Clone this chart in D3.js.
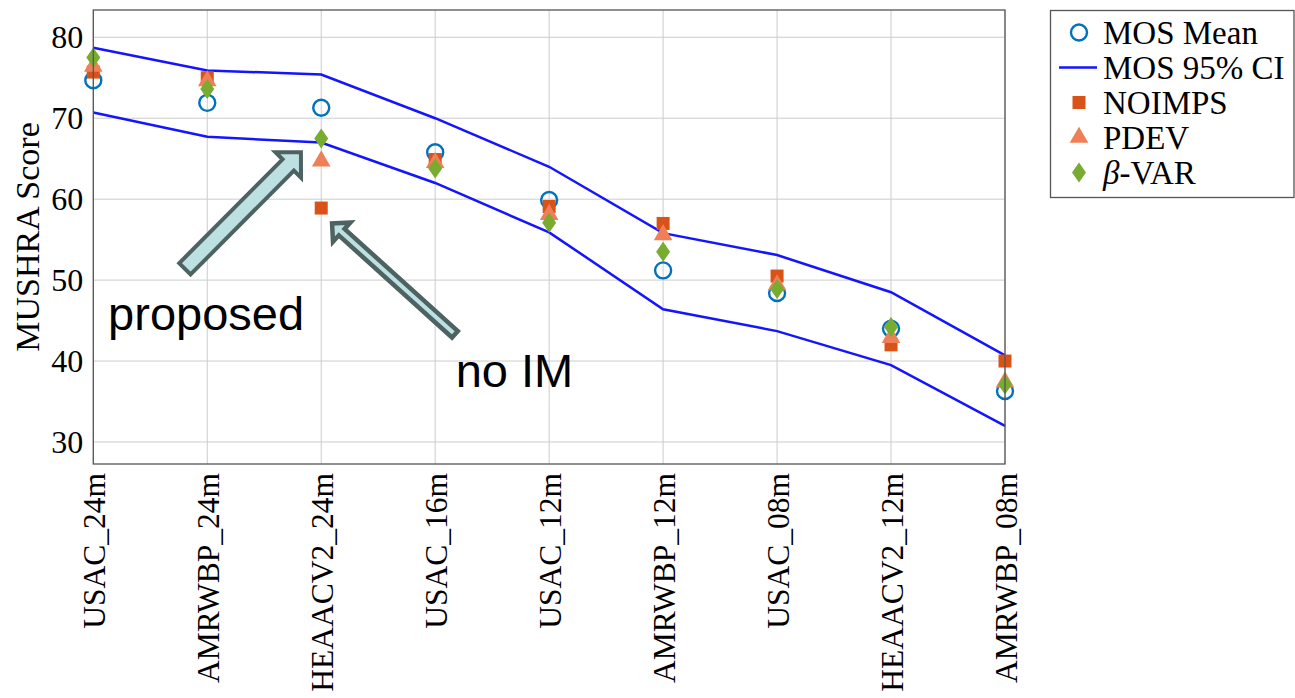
<!DOCTYPE html>
<html>
<head>
<meta charset="utf-8">
<script src="https://cdn.jsdelivr.net/npm/d3@7"></script>
<style>
  html, body { margin: 0; padding: 0; background: #fff; }
  #chart { width: 1295px; height: 698px; }
</style>
</head>
<body>
<div id="chart"></div>
<script>
// codec conditions, left to right
const categories = ["USAC_24m", "AMRWBP_24m", "HEAACV2_24m", "USAC_16m", "USAC_12m",
                    "AMRWBP_12m", "USAC_08m", "HEAACV2_12m", "AMRWBP_08m"];
// MUSHRA scores
const mosMean = [74.7, 71.9, 71.3, 65.8, 59.9, 51.2, 48.4, 44.0, 36.3];
const ciUpper = [78.7, 75.9, 75.4, 70.0, 64.0, 55.8, 53.1, 48.5, 40.7];
const ciLower = [70.7, 67.7, 67.0, 62.0, 55.9, 46.4, 43.7, 39.5, 32.0];
const noimps  = [75.7, 75.0, 58.9, 64.9, 59.1, 57.0, 50.5, 42.0, 40.0];
const pdev    = [76.4, 74.6, 64.7, 64.5, 58.1, 55.6, 49.4, 42.9, 37.4];
const bvar    = [77.5, 73.6, 67.5, 63.8, 57.1, 53.5, 48.9, 44.2, 37.1];
const yTicks  = [30, 40, 50, 60, 70, 80];
const yDomain = [27.28, 83.37];

const legendLabels = ["MOS Mean", "MOS 95% CI", "NOIMPS", "PDEV", "β-VAR"];

// annotation arrows in data space (category index, score)
const arrowProposed = { tail: [0.804, 51.4], tip: [1.822, 65.8] };
const arrowNoIM     = { tail: [3.173, 43.3], tip: [2.095, 57.0] };
const textProposed  = { at: [0.13, 43.85], text: "proposed" };
const textNoIM      = { at: [3.18, 36.8],  text: "no IM" };

const C_MEAN = "#0072bd", C_CI = "#1414ff", C_NO = "#d95319", C_PD = "#ef7f56", C_BV = "#77ac30";
const SERIF = "'Liberation Serif', 'Times New Roman', serif";

const W = 1295, H = 698;
const margin = { top: 10, left: 93.3, right: 290, bottom: 234 };
const w = 1005 - margin.left;
const h = 464 - margin.top;

const svg = d3.select("#chart").append("svg")
  .attr("width", W).attr("height", H)
  .attr("viewBox", `0 0 ${W} ${H}`);

const g = svg.append("g").attr("transform", `translate(${margin.left},${margin.top})`);

const x = d3.scalePoint().domain(categories).range([0, w]).padding(0);
const xi = d3.scaleLinear().domain([0, categories.length - 1]).range([0, w]);
const y = d3.scaleLinear().domain(yDomain).range([h, 0]);

/* grid */
g.append("g").selectAll("line.v").data(categories).enter().append("line")
  .attr("x1", d => x(d)).attr("x2", d => x(d)).attr("y1", 0).attr("y2", h)
  .attr("stroke", "#cccccc").attr("stroke-width", 1);
g.append("g").selectAll("line.h").data(yTicks).enter().append("line")
  .attr("x1", 0).attr("x2", w).attr("y1", d => y(d)).attr("y2", d => y(d))
  .attr("stroke", "#cccccc").attr("stroke-width", 1);

/* axes */
const yAxis = g.append("g").call(d3.axisLeft(y).tickValues(yTicks).tickSize(0).tickPadding(10));
yAxis.select(".domain").remove();
yAxis.selectAll("text").style("font-family", SERIF).style("font-size", "32px").attr("fill", "#000");

const xAxis = g.append("g").attr("transform", `translate(0,${h})`)
  .call(d3.axisBottom(x).tickSize(0));
xAxis.select(".domain").remove();
xAxis.selectAll("text")
  .style("font-family", SERIF).style("font-size", "31.5px").attr("fill", "#000")
  .attr("transform", "rotate(-90)")
  .attr("text-anchor", "end")
  .attr("x", -9).attr("y", 0).attr("dy", "0.35em");

svg.append("text")
  .attr("transform", `translate(39,${margin.top + h / 2}) rotate(-90)`)
  .attr("text-anchor", "middle")
  .style("font-family", SERIF).style("font-size", "34px").attr("fill", "#000")
  .text("MUSHRA Score");

/* MOS mean circles */
g.append("g").selectAll("circle").data(mosMean).enter().append("circle")
  .attr("cx", (d, i) => xi(i)).attr("cy", d => y(d)).attr("r", 8)
  .attr("fill", "none").attr("stroke", C_MEAN).attr("stroke-width", 2.4);

/* CI lines */
const line = d3.line().x((d, i) => xi(i)).y(d => y(d));
[ciUpper, ciLower].forEach(s => {
  g.append("path").datum(s).attr("d", line)
    .attr("fill", "none").attr("stroke", C_CI).attr("stroke-width", 2.5);
});

/* markers */
const sq = d3.symbol().type(d3.symbolSquare).size(169)();
const tri = d3.symbol().type(d3.symbolTriangle).size(150)();
const dia = "M0,-10L7,0L0,10L-7,0Z";

g.append("g").selectAll("path").data(noimps).enter().append("path")
  .attr("d", sq).attr("fill", C_NO)
  .attr("transform", (d, i) => `translate(${xi(i)},${y(d)})`);
g.append("g").selectAll("path").data(pdev).enter().append("path")
  .attr("d", tri).attr("fill", C_PD)
  .attr("transform", (d, i) => `translate(${xi(i)},${y(d)})`);
g.append("g").selectAll("path").data(bvar).enter().append("path")
  .attr("d", dia).attr("fill", C_BV)
  .attr("transform", (d, i) => `translate(${xi(i)},${y(d)})`);

/* frame */
g.append("rect").attr("x", 0).attr("y", 0).attr("width", w).attr("height", h)
  .attr("fill", "none").attr("stroke", "#555").attr("stroke-width", 1.3);

/* annotation arrows */
function arrowPath(a, s, hw, hl) {
  const T = [xi(a.tail[0]), y(a.tail[1])], P = [xi(a.tip[0]), y(a.tip[1])];
  const dx = P[0] - T[0], dy = P[1] - T[1], L = Math.hypot(dx, dy);
  const u = [dx / L, dy / L], n = [-u[1], u[0]];
  const B = [P[0] - u[0] * hl, P[1] - u[1] * hl];
  const pt = (o, k) => [o[0] + n[0] * k, o[1] + n[1] * k];
  const pts = [pt(T, s), pt(B, s), pt(B, hw), P, pt(B, -hw), pt(B, -s), pt(T, -s)];
  return "M" + pts.map(p => p.join(",")).join("L") + "Z";
}
g.append("path").attr("d", arrowPath(arrowProposed, 8, 18, 18))
  .attr("fill", "#bde0e3").attr("stroke", "#4f6262").attr("stroke-width", 4)
  .attr("stroke-linejoin", "miter");
g.append("path").attr("d", arrowPath(arrowNoIM, 4.3, 13, 13))
  .attr("fill", "#bde0e3").attr("stroke", "#4f6262").attr("stroke-width", 4.5)
  .attr("stroke-linejoin", "miter");

[textProposed, textNoIM].forEach(t => {
  g.append("text").attr("x", xi(t.at[0])).attr("y", y(t.at[1]))
    .style("font-family", "'Liberation Sans', Arial, sans-serif").style("font-size", "47px")
    .attr("fill", "#000").text(t.text);
});

/* legend */
const lg = svg.append("g");
lg.append("rect").attr("x", 1050.5).attr("y", 10.5).attr("width", 243.5).attr("height", 187)
  .attr("fill", "#fff").attr("stroke", "#555").attr("stroke-width", 1.3);
const rowY = i => 32.5 + i * 35;
const mx = 1079;
legendLabels.forEach((lab, i) => {
  const cy = rowY(i);
  if (i === 0) lg.append("circle").attr("cx", mx).attr("cy", cy).attr("r", 8)
    .attr("fill", "none").attr("stroke", C_MEAN).attr("stroke-width", 2.4);
  if (i === 1) lg.append("line").attr("x1", 1059).attr("x2", 1097).attr("y1", cy).attr("y2", cy)
    .attr("stroke", C_CI).attr("stroke-width", 2.5);
  if (i === 2) lg.append("path").attr("d", sq).attr("fill", C_NO).attr("transform", `translate(${mx},${cy})`);
  if (i === 3) lg.append("path").attr("d", tri).attr("fill", C_PD).attr("transform", `translate(${mx},${cy})`);
  if (i === 4) lg.append("path").attr("d", dia).attr("fill", C_BV).attr("transform", `translate(${mx},${cy})`);
  const t = lg.append("text").attr("x", 1103).attr("y", cy + 11)
    .style("font-family", SERIF).style("font-size", "33px").attr("fill", "#000");
  if (lab.startsWith("β")) {
    t.append("tspan").style("font-style", "italic").text("β");
    t.append("tspan").text(lab.slice(1));
  } else {
    t.text(lab);
  }
});
</script>
</body>
</html>
